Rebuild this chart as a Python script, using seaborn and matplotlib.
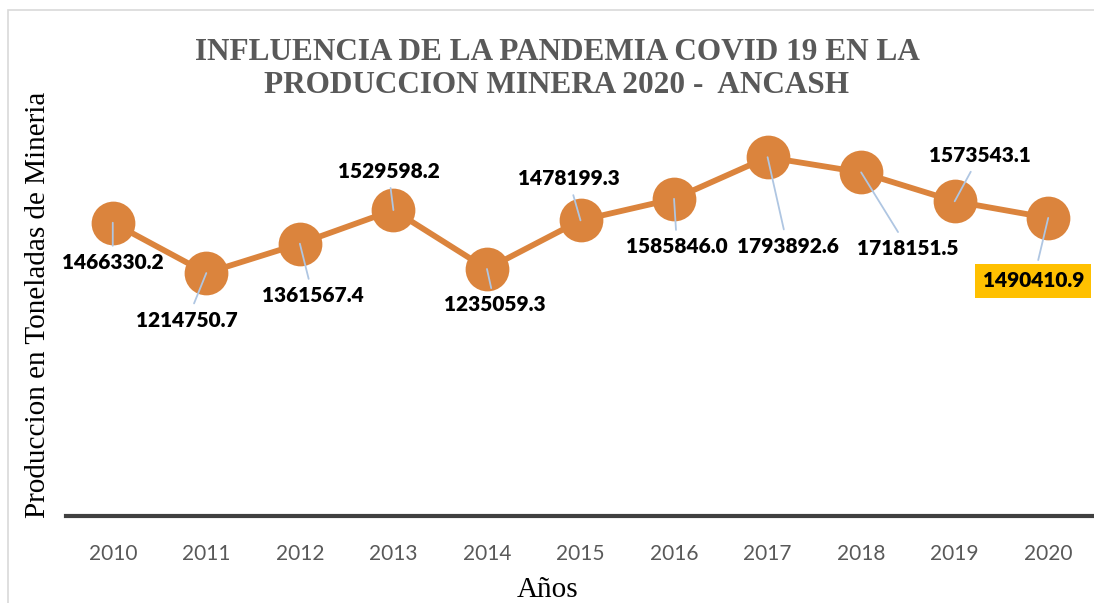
import matplotlib
matplotlib.use("Agg")
import matplotlib.pyplot as plt
import seaborn as sns
import pandas as pd
from matplotlib.patches import Rectangle

# data
years = [2010, 2011, 2012, 2013, 2014, 2015, 2016, 2017, 2018, 2019, 2020]
produccion = [1466330.2, 1214750.7, 1361567.4, 1529598.2, 1235059.3, 1478199.3,
              1585846.0, 1793892.6, 1718151.5, 1573543.1, 1490410.9]
# label offsets in pixels (dx, dy down)
label_off = [(0, 40), (-19, 47), (13, 52), (-5, -39), (8, 36), (-12, -42),
             (3, 48), (20, 89), (47, 76), (25, -46), (-15, 63)]

df = pd.DataFrame({"Año": years, "Produccion": produccion})

sns.set_style("white")
plt.rcParams["font.family"] = ["Lato", "DejaVu Sans"]

orange = "#DB843D"
gray = "#595959"

fig = plt.figure(figsize=(10.94, 6.03), dpi=100)
ax = fig.add_axes([66 / 1094, 1 - 516 / 603, 1029 / 1094, 400 / 603])

sns.lineplot(data=df, x="Año", y="Produccion", ax=ax,
             color=orange, linewidth=4.2,
             marker="o", markersize=31.5,
             markeredgewidth=0, markeredgecolor=orange)

ax.set_xlim(2009.5, 2020.5)
ax.set_ylim(0, 2000000)
ax.set_xticks(years)
ax.set_xticklabels([str(y) for y in years], fontsize=15, color=gray)
ax.set_yticks([])
ax.tick_params(axis="x", length=0, pad=20)
ax.set_xlabel("")
ax.set_ylabel("")

for s in ["left", "top", "right"]:
    ax.spines[s].set_visible(False)
ax.spines["bottom"].set_linewidth(3)
ax.spines["bottom"].set_color("#404040")

# data labels with leader lines
for i, (x, v) in enumerate(zip(years, produccion)):
    dx, dy = label_off[i]
    kw = {}
    if x == 2020:
        kw["bbox"] = dict(boxstyle="square,pad=0.35", fc="#FFC000", ec="none")
    ax.annotate(f"{v:.1f}", xy=(x, v), xytext=(dx, -dy),
                textcoords="offset pixels", ha="center", va="center",
                fontsize=15, fontweight="heavy", color="black",
                arrowprops=dict(arrowstyle="-", color="#AFC6E2", lw=1.3,
                                shrinkA=3, shrinkB=0),
                zorder=5, annotation_clip=False, **kw)

# title and axis labels
fig.text(557 / 1094, 1 - 69 / 603,
         "INFLUENCIA DE LA PANDEMIA COVID 19 EN LA\nPRODUCCION MINERA 2020 -  ANCASH",
         ha="center", va="center", fontsize=22.5, fontweight="bold",
         color=gray, family="Liberation Serif", linespacing=1.15)
fig.text(38 / 1094, 1 - 305 / 603, "Produccion en Toneladas de Mineria",
         rotation=90, ha="center", va="center", fontsize=21,
         family="Liberation Serif", color="black")
fig.text(548 / 1094, 1 - 590 / 603, "Años", ha="center", va="center",
         fontsize=21, family="Liberation Serif", color="black")

# chart border
fig.patches.append(Rectangle((8 / 1094, -0.1), 1.2, 1.1 - 10 / 603,
                             transform=fig.transFigure, fill=False,
                             ec="#D9D9D9", lw=1.2))

plt.savefig("out.png", dpi=100)
